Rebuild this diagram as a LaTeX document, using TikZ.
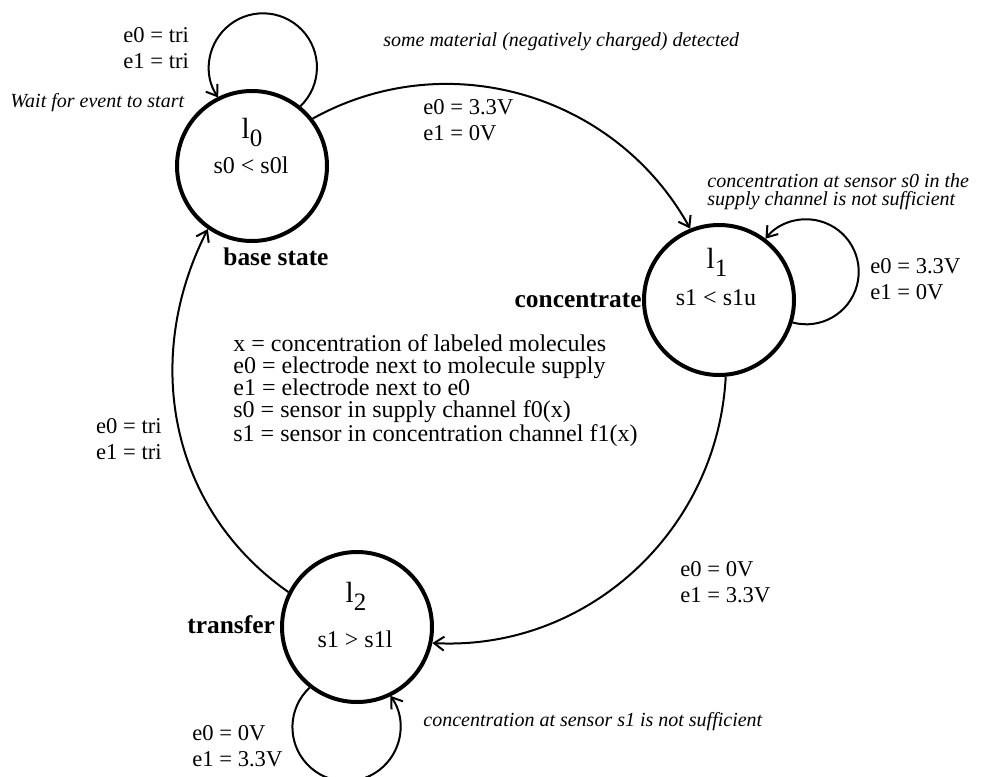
\documentclass[tikz,border=0pt]{standalone}
\usepackage{fontspec}
\setmainfont{Liberation Serif}
\usetikzlibrary{arrows.meta}

\newcommand{\statename}[1]{{\fontsize{14.6}{16}\selectfont l}\raisebox{-4.2pt}{\fontsize{12.5}{14}\selectfont #1}}

\begin{document}
\begin{tikzpicture}[x=0.5pt, y=0.5pt, >={Straight Barb[length=5pt, width=7pt]}, line join=round,
    state/.style={circle, draw, line width=2pt, minimum size=75pt, inner sep=0pt},
    trans/.style={->, line width=1pt},
    lbl/.style={inner sep=0pt, align=left, font=\fontsize{11.3}{12.8}\selectfont},
    note/.style={inner sep=0pt, align=left, font=\fontsize{10}{9}\selectfont\itshape},
    tag/.style={inner sep=0pt, font=\fontsize{12.7}{14}\selectfont\bfseries},
    cond/.style={inner sep=0pt, anchor=base, font=\fontsize{12}{14}\selectfont},
    keytext/.style={inner sep=0pt, align=left, font=\fontsize{12}{11}\selectfont}]
    \useasboundingbox (0,0) rectangle (984,-776);

    % states
    \node[state] (l0) at (252,-166) {};
    \node[state] (l1) at (719,-300) {};
    \node[state] (l2) at (357,-627) {};
    \node[cond] (l0name) at (252,-138) {\statename{0}};
    \node[cond] (l0cond) at (251,-173) {s0 < s0l};
    \node[cond] (l1name) at (717,-268) {\statename{1}};
    \node[cond] (l1cond) at (716,-305) {s1 < s1u};
    \node[cond] (l2name) at (356,-602) {\statename{2}};
    \node[cond] (l2cond) at (355,-647) {s1 > s1l};
    \node[tag, anchor=base west] (tagbase) at (223,-265) {base state};
    \node[tag, anchor=base east] (tagconc) at (642,-307) {concentrate};
    \node[tag, anchor=base west] (tagtrans) at (187,-633) {transfer};

    % transitions
    \draw[trans] (l0.38) to[out=29, in=119] (l1.112);
    \draw[trans] (l1.-85) to[out=-93, in=-3] (l2.-12);
    \draw[trans] (l2.153) to[out=145, in=243] (l0.235);

    % self loops
    \draw[trans] (l0.51) arc[start angle=-46, end angle=214, radius=54];
    \draw[trans] (l1.-17.5) arc[start angle=255, end angle=501, radius=52.5];
    \draw[trans] (l2.232) arc[start angle=133, end angle=395.5, radius=54];

    % labels
    \node[lbl, anchor=north west] (lab00) at (123,-27) {e0 = tri\\e1 = tri};
    \node[lbl, anchor=north west] (lab01) at (423,-99) {e0 = 3.3V\\e1 = 0V};
    \node[lbl, anchor=north west] (lab11) at (870,-258) {e0 = 3.3V\\e1 = 0V};
    \node[lbl, anchor=north west] (lab12) at (680,-561) {e0 = 0V\\e1 = 3.3V};
    \node[lbl, anchor=north east] (lab20) at (162,-418) {e0 = tri\\e1 = tri};
    \node[lbl, anchor=north west] (lab22) at (192,-725) {e0 = 0V\\e1 = 3.3V};

    \node[note, anchor=base west] (wait) at (10,-107) {Wait for event to start};
    \node[note, anchor=base west] (detect) at (383,-46) {some material (negatively charged) detected};
    \node[note, anchor=north west] (insuf0) at (707,-173) {concentration at sensor s0 in the\\supply channel is not sufficient};
    \node[note, anchor=base west] (insuf1) at (423,-726) {concentration at sensor s1 is not sufficient};

    \node[keytext, anchor=north west] (key) at (233,-334) {x = concentration of labeled molecules\\e0 = electrode next to molecule supply\\e1 = electrode next to e0\\s0 = sensor in supply channel f0(x)\\s1 = sensor in concentration channel f1(x)};
\end{tikzpicture}
\end{document}
